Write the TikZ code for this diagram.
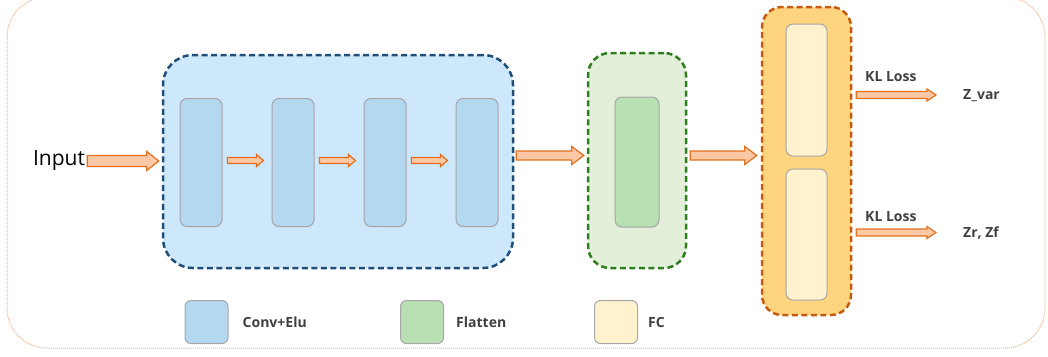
\documentclass[tikz,border=0pt]{standalone}
\usepackage{fontspec}
\setmainfont{Open Sans}
\usepackage{tikz}
\usetikzlibrary{calc,positioning}
\definecolor{frame}{HTML}{F4B183}
\definecolor{convbg}{HTML}{CDE8FA}
\definecolor{convfill}{HTML}{B4D8F0}
\definecolor{convline}{HTML}{1F4E79}
\definecolor{flatbg}{HTML}{E2F0D9}
\definecolor{flatfill}{HTML}{B9E0B3}
\definecolor{flatline}{HTML}{2E7D1E}
\definecolor{fcbg}{HTML}{FFD47F}
\definecolor{fcfill}{HTML}{FFF2CC}
\definecolor{fcline}{HTML}{C55A11}
\definecolor{arrfill}{HTML}{FCC8A6}
\definecolor{arrline}{HTML}{E2701C}
\definecolor{boxline}{HTML}{A6A6A6}
\definecolor{lbl}{HTML}{404040}
\tikzset{
  group/.style={draw, line width=2.5pt, dash pattern=on 6pt off 3.5pt, inner sep=0pt},
  layer/.style={draw=boxline, line width=1pt, rounded corners=7pt, inner sep=0pt,
    minimum width=42pt, minimum height=128pt},
  key/.style={draw=boxline, line width=1pt, rounded corners=6pt, inner sep=0pt,
    minimum width=43pt, minimum height=43pt},
  lab/.style={text=lbl, inner sep=0pt, font=\bfseries\fontsize{14}{16}\selectfont},
  arr/.style={draw=arrline, fill=arrfill, line width=1.2pt, line join=miter},
}
% fat arrow: from, to, half shaft, half head, head length
\newcommand{\fatarrow}[5]{%
  \draw[arr] let \p1=(#1), \p2=(#2) in
    (\x1,\y1+#3) -- (\x2-#5,\y1+#3) -- (\x2-#5,\y1+#4) -- (\x2,\y1)
    -- (\x2-#5,\y1-#4) -- (\x2-#5,\y1-#3) -- (\x1,\y1-#3) -- cycle;}
\begin{document}
\begin{tikzpicture}[x=1pt,y=-1pt]
  \useasboundingbox (0,0) rectangle (1048,356);
  \draw[frame, line width=1pt, densely dotted, rounded corners=40pt] (7,-3) rectangle (1045,348);

  % encoder blocks
  \node[group, draw=convline, fill=convbg, rounded corners=30pt,
    minimum width=350pt, minimum height=213pt] (conv) at (338,161.5) {};
  \foreach \i/\x in {1/201,2/293,3/385,4/477}
    \node[layer, fill=convfill] (c\i) at (\x,162.5) {};
  \node[group, draw=flatline, fill=flatbg, rounded corners=22pt,
    minimum width=98pt, minimum height=215pt] (flat) at (637,160.5) {};
  \node[layer, fill=flatfill, minimum width=44pt, minimum height=130pt] (fl) at (637,162) {};
  \node[group, draw=fcline, fill=fcbg, rounded corners=20pt,
    minimum width=89pt, minimum height=308pt] (fc) at (806.5,161) {};
  \node[layer, fill=fcfill, minimum width=41pt, minimum height=132pt] (fc1) at (806.5,90) {};
  \node[layer, fill=fcfill, minimum width=41pt, minimum height=131pt] (fc2) at (806.5,234.5) {};

  % texts
  \node[inner sep=0pt, font=\fontsize{21}{24}\selectfont] (input) at (59,161) {Input};
  \node[lab, anchor=west] (kl1) at (865,77) {KL Loss};
  \node[lab, anchor=west] (kl2) at (865,217) {KL Loss};
  \node[lab, anchor=west] (zvar) at (963,96) {Z\_var};
  \node[lab, anchor=west] (zrf) at (963,233) {Zr, Zf};

  % arrows
  \fatarrow{$(input.east)+(2,0)$}{$(conv.west)+(-3,0)$}{5.5pt}{9.5pt}{12pt}
  \foreach \i/\j in {1/2,2/3,3/4}{
    \fatarrow{$(c\i.east)+(5,-2)$}{$(c\j.west)+(-8,-2)$}{3pt}{6pt}{7pt}}
  \fatarrow{$(conv.east)+(2,-6)$}{$(flat.west)+(-3,-6)$}{4.5pt}{9pt}{12pt}
  \fatarrow{$(flat.east)+(3,-5)$}{$(fc.west)+(-4,-5)$}{4.5pt}{9pt}{12pt}
  \fatarrow{$(fc1.center -| fc.east)+(4,5)$}{$(zvar.west |- fc1.center)+(-27,5)$}{3.5pt}{6pt}{9pt}
  \fatarrow{$(fc2.center -| fc.east)+(4,-2)$}{$(zrf.west |- fc2.center)+(-27,-2)$}{3.5pt}{6pt}{9pt}

  % legend
  \node[key, fill=convfill] (kconv) at (206.5,322) {};
  \node[lab, right=14pt of kconv] (tconv) {Conv+Elu};
  \node[key, fill=flatfill] (kflat) at (422,322) {};
  \node[lab, right=12pt of kflat] (tflat) {Flatten};
  \node[key, fill=fcfill] (kfc) at (616,322) {};
  \node[lab, right=10pt of kfc] (tfc) {FC};
\end{tikzpicture}
\end{document}
